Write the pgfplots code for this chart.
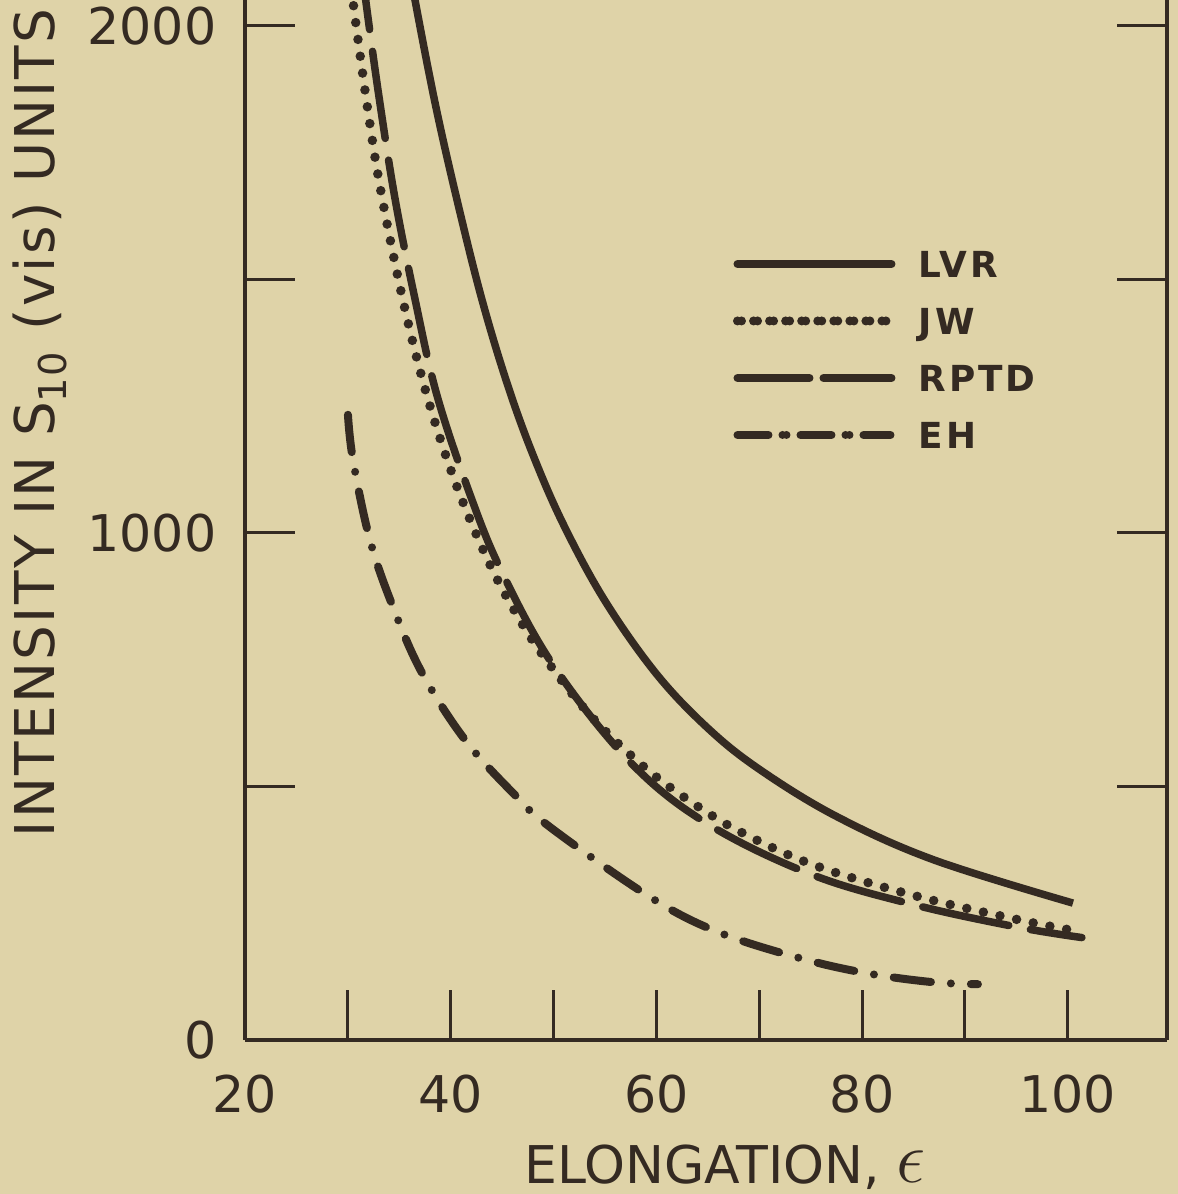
\documentclass[border=0pt]{standalone}
\usepackage{fontspec}
\setmainfont{DejaVu Sans}
\newfontfamily\ylabfont[LetterSpace=4]{DejaVu Sans}
\newfontfamily\legfont[LetterSpace=8]{DejaVu Sans Bold}
\usepackage{pgfplots}
\pgfplotsset{compat=1.18}
\definecolor{paper}{RGB}{223,211,168}
\definecolor{ink}{RGB}{52,42,34}

\begin{document}
\begin{tikzpicture}[color=ink]
\path[fill=paper, use as bounding box] (-2.45,-1.54) rectangle (9.33,10.40);
\begin{axis}[
  at={(0,0)}, anchor=south west,
  scale only axis, width=9.22cm, height=10.40cm,
  xmin=20, xmax=109.64, ymin=0, ymax=2051,
  axis x line*=bottom, axis y line*=box,
  x axis line style={-}, y axis line style={-},
  axis line style={ink, line width=1.3pt},
  tick align=inside, major tick length=0.5cm,
  tick style={ink, line width=0.85pt},
  xtick={20,30,...,100}, xticklabels={20,,40,,60,,80,,100},
  ytick={0,500,...,2000}, yticklabels={0,,1000,,2000},
  /pgf/number format/assume math mode=true,
  xticklabel style={font=\fontsize{14.4}{16}\selectfont, text=ink, inner sep=0pt, anchor=north, yshift=-0.34cm},
  yticklabel style={font=\fontsize{14.4}{16}\selectfont, text=ink, inner sep=0pt, anchor=east, xshift=-0.28cm},
  xlabel={ELONGATION,\ \scalebox{1.45}{$\epsilon$}},
  xlabel style={font=\fontsize{14.8}{17}\selectfont, text=ink, inner sep=0pt,
    at={(axis description cs:0.5206,-0.1375)}, anchor=base},
  ylabel={INTENSITY IN S\textsubscript{10} (vis) UNITS},
  ylabel style={font=\ylabfont\fontsize{15.6}{18}\selectfont, text=ink, inner sep=0pt,
    at={(axis description cs:-0.2061,0.1942)}, anchor=base west},
  legend cell align=left,
  legend image code/.code={\path (0cm,0cm) -- (1.54cm,0cm); \draw[#1] (0.04cm,0cm) -- (1.50cm,0cm);},
  legend style={at={(axis description cs:0.5293,0.7736)}, anchor=north west,
    draw=none, fill=none, inner sep=0pt, outer sep=0pt, row sep=0pt, column sep=0.23cm,
    font=\legfont\fontsize{10.2}{12}\selectfont, text=ink,
    nodes={inner sep=0pt, text height=0.42cm, text depth=0.15cm}},
]
% LVR
\addplot[forget plot, ink, line width=0.075cm, smooth, tension=0.6] coordinates {
  (35.70,2150) (36.53,2051) (38.50,1846) (40.61,1657) (43.00,1463) (45.50,1294)
  (48.00,1154) (51.00,1015) (55.00,866) (60.00,722) (65.00,615) (70.00,534)
  (77.50,441) (87.00,355) (100.50,270)};
% JW
\addplot[forget plot, ink, line width=0.095cm, line cap=round, dash pattern=on 0pt off 0.17cm, smooth, tension=0.6] coordinates {
  (29.80,2173) (30.50,2048) (32.00,1826) (33.32,1662) (35.50,1446) (37.79,1264)
  (40.50,1097) (43.62,946) (46.50,836) (49.17,753) (53.50,642) (58.60,542)
  (63.26,471) (68.22,410) (75.32,345) (85.04,285) (95.44,236) (101.37,213)};
% RPTD
\addplot[forget plot, ink, line width=0.075cm, line cap=round, dash pattern=on 0.88cm off 0.22cm, smooth, tension=0.6] coordinates {
  (31.05,2165) (31.76,2047) (33.00,1864) (34.58,1660) (36.50,1464) (38.67,1271)
  (42.00,1069) (45.00,922) (50.00,738) (57.50,547) (65.00,426) (75.00,327)
  (85.00,267) (95.00,223) (101.37,202)};
% EH
\addplot[forget plot, ink, line width=0.08cm, line cap=round, dash pattern=on 0.375cm off 0.2cm on 0cm off 0.2cm, smooth, tension=0.6] coordinates {
  (30.01,1233) (30.50,1144) (32.15,986) (34.39,854) (37.21,724) (41.39,592)
  (46.06,487) (49.65,420) (59.37,282) (65.98,213) (73.86,162) (80.37,132)
  (86.89,114) (91.26,110)};

\addlegendimage{ink, line width=0.08cm, line cap=round}
\addlegendentry{LVR}
\addlegendimage{ink, line width=0.09cm, line cap=round, dash pattern=on 0pt off 0.1605cm}
\addlegendentry{JW}
\addlegendimage{ink, line width=0.08cm, line cap=round, dash pattern=on 0.68cm off 0.18cm}
\addlegendentry{RPTD}
\addlegendimage{ink, line width=0.08cm, line cap=round, dash pattern=on 0.27cm off 0.18cm on 0cm off 0.18cm}
\addlegendentry{EH}
\end{axis}
\end{tikzpicture}
\end{document}
